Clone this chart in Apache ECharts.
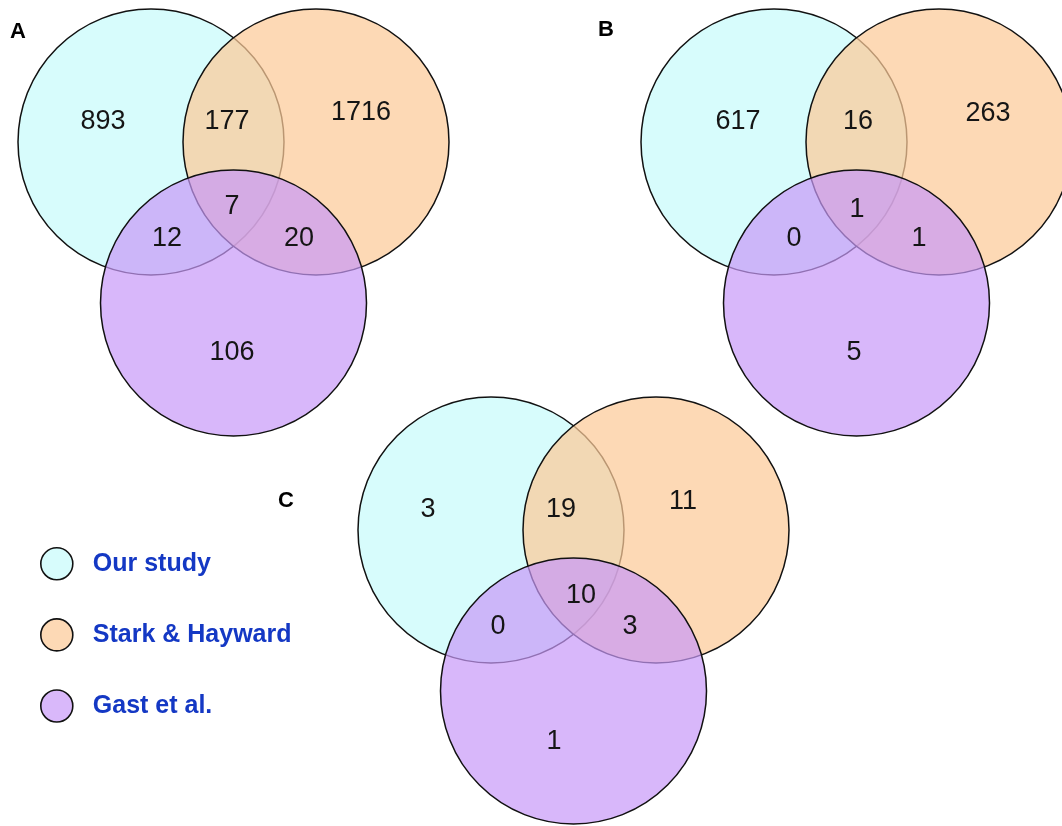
<!DOCTYPE html>
<html>
<head>
<meta charset="utf-8">
<script src="https://cdn.jsdelivr.net/npm/echarts@6/dist/echarts.min.js"></script>
<style>
  html, body { margin: 0; padding: 0; background: #ffffff; }
  #chart { width: 1062px; height: 826px; }
</style>
</head>
<body>
<div id="chart"></div>
<script>
// ---- Data -------------------------------------------------------------
// The three gene sets being compared
const setNames = ['Our study', 'Stark & Hayward', 'Gast et al.'];
// Panel letters
const panelNames = ['A', 'B', 'C'];
// Region order: Our only, Our∩Stark, Stark only, Our∩Gast, all three, Stark∩Gast, Gast only
const regionNames = ['Our only', 'Our ∩ Stark', 'Stark only', 'Our ∩ Gast', 'All three', 'Stark ∩ Gast', 'Gast only'];
const countsA = [893, 177, 1716, 12, 7, 20, 106];
const countsB = [617, 16, 263, 0, 1, 1, 5];
const countsC = [3, 19, 11, 0, 10, 3, 1];
const panelCounts = [countsA, countsB, countsC];

// ---- Layout (axis units = pixels of the drawing area) -------------------
const R = 133;
// centre of the "Our study" circle in each panel
const panelOrigins = [[151, 142], [774, 142], [491, 530]];
// circle centres relative to the panel origin, in setNames order
const circleOffsets = [[0, 0], [165, 0], [82.5, 161]];
// count label anchors relative to the panel origin, in regionNames order
const labelOffsets = [
  [[-48, -20], [76, -20], [210, -29], [16, 97], [81, 65], [148, 97], [81, 211]],
  [[-36, -20], [84, -20], [214, -28], [20, 97], [83, 68], [145, 97], [80, 211]],
  [[-63, -20], [70, -20], [192, -28], [7, 97], [90, 66], [139, 97], [63, 212]]
];
const letterPos = [[18, 32], [606, 30], [286, 501]];

const fills = ['rgba(215,252,252,1)', 'rgba(252,202,152,0.72)', 'rgba(200,153,248,0.70)'];
const swatches = ['#d7fcfc', '#fdd9b5', '#d9b8fa'];
const FONT = '"Liberation Sans", Arial, Helvetica, sans-serif';

// ---- Series -------------------------------------------------------------
function circleSeries(setIdx) {
  return {
    name: setNames[setIdx],
    type: 'custom',
    coordinateSystem: 'cartesian2d',
    itemStyle: { color: swatches[setIdx] },
    z: 2 + setIdx,
    silent: true,
    data: panelOrigins.map(o => [o[0] + circleOffsets[setIdx][0], o[1] + circleOffsets[setIdx][1], R]),
    renderItem: function (params, api) {
      const c = api.coord([api.value(0), api.value(1)]);
      const r = api.size([api.value(2), 0])[0];
      return {
        type: 'circle',
        shape: { cx: c[0], cy: c[1], r: r },
        style: { fill: fills[setIdx], stroke: '#111', lineWidth: 1.5 }
      };
    }
  };
}

const countData = [];
panelCounts.forEach((counts, p) => {
  counts.forEach((v, i) => {
    countData.push([panelOrigins[p][0] + labelOffsets[p][i][0],
                    panelOrigins[p][1] + labelOffsets[p][i][1], v]);
  });
});

const countSeries = {
  name: 'counts',
  type: 'custom',
  coordinateSystem: 'cartesian2d',
  z: 10,
  silent: true,
  data: countData,
  renderItem: function (params, api) {
    const c = api.coord([api.value(0), api.value(1)]);
    return {
      type: 'text',
      x: c[0], y: c[1],
      style: {
        text: String(api.value(2)),
        fill: '#151515',
        fontSize: 27,
        fontFamily: FONT,
        align: 'center',
        verticalAlign: 'middle'
      }
    };
  }
};

const letterSeries = {
  name: 'panels',
  type: 'custom',
  coordinateSystem: 'cartesian2d',
  z: 10,
  silent: true,
  data: letterPos.map((p, i) => [p[0], p[1], i]),
  renderItem: function (params, api) {
    const c = api.coord([api.value(0), api.value(1)]);
    return {
      type: 'text',
      x: c[0], y: c[1],
      style: {
        text: panelNames[api.value(2)],
        fill: '#000',
        fontSize: 22,
        fontWeight: 'bold',
        fontFamily: FONT,
        align: 'center',
        verticalAlign: 'middle'
      }
    };
  }
};

const chart = echarts.init(document.getElementById('chart'), null, { renderer: 'canvas' });
chart.setOption({
  animation: false,
  backgroundColor: '#ffffff',
  grid: { left: 0, right: 0, top: 0, bottom: 0 },
  xAxis: { type: 'value', min: 0, max: 1062, show: false },
  yAxis: { type: 'value', min: 0, max: 826, inverse: true, show: false },
  legend: {
    orient: 'vertical',
    left: 35,
    top: 542,
    icon: 'circle',
    itemWidth: 32,
    itemHeight: 32,
    itemGap: 37.5,
    selectedMode: false,
    data: setNames.map((n, i) => ({
      name: n,
      itemStyle: { color: swatches[i], borderColor: '#111', borderWidth: 1.6 }
    })),
    textStyle: {
      fontSize: 25,
      fontWeight: 'bold',
      fontFamily: FONT,
      color: '#1438c4',
      padding: [0, 0, 0, 15]
    }
  },
  series: [circleSeries(0), circleSeries(1), circleSeries(2), countSeries, letterSeries]
});
</script>
</body>
</html>
